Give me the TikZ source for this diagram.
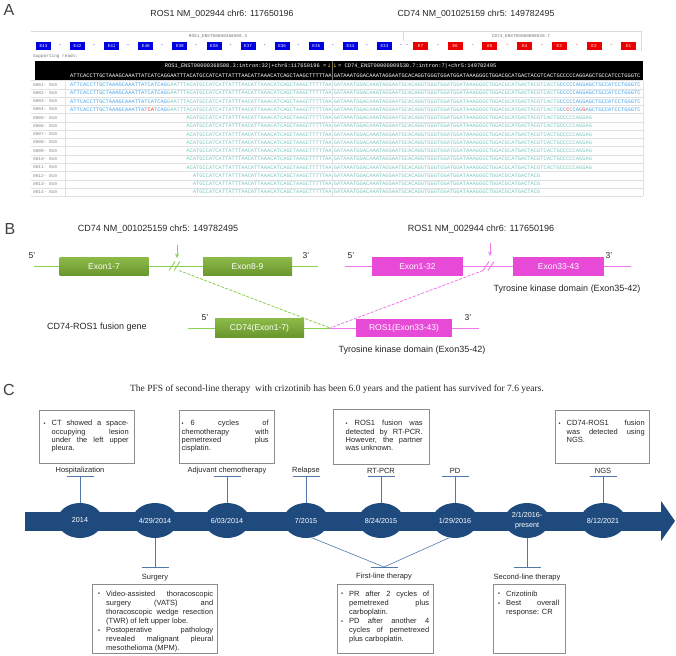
\documentclass[tikz,border=0pt]{standalone}
\usepackage{fontspec}
\usepackage{graphicx}
\setmainfont{Liberation Sans}
\newfontfamily\monof{Liberation Mono}
\newfontfamily\seriff{Liberation Serif}
\newfontfamily\djv{DejaVu Sans}
\usetikzlibrary{arrows.meta,calc,shapes.geometric}
\newcommand\fsz[1]{\fontsize{#1}{#1}\selectfont}
\newcommand\bfnt{\fontsize{7.5}{8.4}\selectfont}
\newcommand\bfntb{\fontsize{7.5}{9.1}\selectfont}
\newcommand\bdot{\raisebox{0.4pt}{\scalebox{0.75}{\textbullet}}}
\newcommand\bul[1]{\par\hangindent=8pt\hangafter=1\noindent\makebox[8pt][l]{\bdot}#1\par}
\newcommand\bun[1]{\par\noindent\makebox[9pt][l]{\bdot}#1\par}
\definecolor{exblue}{RGB}{0,0,225}
\definecolor{exred}{RGB}{235,0,0}
\definecolor{rblue}{RGB}{75,165,235}
\definecolor{rteal}{RGB}{125,200,190}
\definecolor{rred}{RGB}{235,60,40}
\definecolor{gtop}{RGB}{140,186,72}
\definecolor{gbot}{RGB}{105,150,45}
\definecolor{glin}{RGB}{140,208,80}
\definecolor{pboxc}{RGB}{232,74,216}
\definecolor{plin}{RGB}{240,120,232}
\definecolor{tlb}{RGB}{31,74,125}
\definecolor{tmkc}{RGB}{80,120,172}
\tikzset{
  plabel/.style={font=\fsz{16}, text=black!75, inner sep=0pt},
  title/.style={font=\fsz{8.8}, text=black!85, inner sep=0pt},
  tnine/.style={font=\fsz{9}, text=black!85, inner sep=0pt},
  pr/.style={font=\fsz{8.5}, text=black!85, inner sep=0pt},
  hdr/.style={font=\monof\fsz{4.4}, text=black!55, inner sep=0pt},
  exon/.style={rectangle, minimum width=15pt, minimum height=7.5pt, inner sep=0pt, font=\monof\fsz{4.3}, text=white},
  exdash/.style={font=\monof\fsz{5}, inner sep=0pt},
  seqw/.style={font=\monof\fsz{5.38}, text=white, inner sep=0pt},
  seq/.style={font=\monof\fsz{5.38}, inner sep=0pt, anchor=west},
  rlab/.style={font=\monof\fsz{4.4}, text=black!50, inner sep=0pt, anchor=west},
  gridl/.style={draw=black!12, line width=0.4pt},
  gln/.style={draw=glin, line width=0.9pt},
  pln/.style={draw=plin, line width=0.9pt},
  gbx/.style={rectangle, minimum width=89pt, minimum height=18.5pt, inner sep=0pt, top color=gtop, bottom color=gbot, text=white, font=\fsz{8.5}},
  pbx/.style={rectangle, minimum width=91pt, minimum height=18.5pt, inner sep=0pt, fill=pboxc, text=white, font=\fsz{8.5}},
  tc/.style={ellipse, fill=tlb, minimum width=45pt, minimum height=35pt, inner sep=0pt, text=white, font=\fsz{7.2}},
  tmk/.style={draw=tmkc, line width=0.8pt},
  tlab/.style={font=\fsz{7.5}, text=black!85, inner sep=0pt},
  cbox/.style={rectangle, draw=black!45, line width=0.5pt, fill=white, inner sep=0pt, anchor=north west},
  btx/.style={font=\bfnt, text=black!85, align=justify, inner sep=0pt, anchor=north west},
  btxb/.style={font=\bfntb, text=black!85, align=justify, inner sep=0pt, anchor=north west}
}
\begin{document}
\begin{tikzpicture}[x=1pt,y=-1pt]
\useasboundingbox (0,0) rectangle (676,655);
\fill[white] (0,0) rectangle (676,655);
\def\pp{3.2286}
\def\Xr{70}
\def\Xc{333.6}
% ================= Panel A =================
\node[plabel] (lA) at (9,10) {A};
\node[title] (tA1) at (222,14) {ROS1 NM\_002944 chr6: 117650196};
\node[title] (tA2) at (476,14) {CD74 NM\_001025159 chr5: 149782495};
\draw[draw=black!15, line width=0.4pt] (31,31) -- (641,31) -- (641,51);
\draw[draw=black!15, line width=0.4pt] (403,31) -- (403,41);
\node[hdr] (hR) at (218,36) {ROS1\_ENST00000368508.3};
\node[hdr] (hC) at (521,36) {CD74\_ENST00000009530.7};
\foreach \n [count=\i from 0] in {43,42,...,33} {
  \pgfmathsetmacro\xx{43.5+34.1*\i}
  \node[exon, fill=exblue] (E\n) at (\xx,45.8) {E\n};
  \node[exdash, text=exblue] (dE\n) at (\xx+16.5,45.8) {-};
}
\node[exdash, text=exred] (dF0) at (407,45.8) {-};
\foreach \n [count=\i from 0] in {7,6,...,1} {
  \pgfmathsetmacro\xx{420.5+34.7*\i}
  \node[exon, fill=exred] (F\n) at (\xx,45.8) {E\n};
  \ifnum\n>1 \node[exdash, text=exred] (dF\n) at (\xx+17.35,45.8) {-};\fi
}
\node[hdr, anchor=west] (sup) at (33,56) {Supporting reads:};
% black bar
\fill[black] (35,61) rectangle (643,80.5);
\draw[black!55, line width=0.4pt] (332,61) -- (332,80.5);
\node[seqw, anchor=base east] (jR) at (326.5,67.6) {ROS1\_ENST00000368508.3:intron:32|+chr6:117650196 =};
\node[font=\djv\fsz{5}, text=yellow!85!orange, inner sep=0pt] (ya1) at (329.3,65.8) {↓};
\node[font=\djv\fsz{5}, text=yellow!85!orange, inner sep=0pt] (ya2) at (335,65.8) {↓};
\node[seqw, anchor=base west] (jC) at (338,67.6) {= CD74\_ENST00000009530.7:intron:7|+chr5:149782495};
\node[seqw, anchor=west] (sR) at (\Xr,75.6) {ATTCACCTTGCTAAAGCAAATTATCATCAGGAATTTACATGCCATCATTATTTAACATTAAACATCAGCTAAGCTTTTTAA};
\node[seqw, anchor=west] (sC) at (\Xc,75.6) {GATAAATGGACAAATAGGAATGCACAGGTGGGTGGATGGATAAAGGGCTGGACGCATGACTACGTCACTGCCCCCAGGAGCTGCCATCCTGGGTC};
% grid of reads
\foreach \i in {0,...,14} {
  \draw[gridl] (31,{80.7+\i*8.25}) -- (643,{80.7+\i*8.25});
}
\draw[gridl] (65,80.7) -- (65,196.2);
\draw[gridl] (332,80.7) -- (332,196.2);
\draw[gridl] (643,80.7) -- (643,196.2);
\foreach \rr [count=\i] in {0001,0002,0003,0004,0005,0006,0007,0008,0009,0010,0011,0012,0013,0014} {
  \node[rlab] (rl\i) at (33,{84.8+(\i-1)*8.25}) {\rr- 010};
}
\foreach \i in {1,2,3} {
  \pgfmathsetmacro\yy{84.8+(\i-1)*8.25}
  \node[seq, text=rblue] (r\i a) at (\Xr,\yy) {ATTCACCTTGCTAAAGCAAATTATCATCAG};
  \node[seq, text=rteal] (r\i b) at ({\Xr+30*\pp},\yy) {GAATTTACATGCCATCATTATTTAACATTAAACATCAGCTAAGCTTTTTAA};
  \node[seq, text=rteal] (r\i c) at (\Xc,\yy) {GATAAATGGACAAATAGGAATGCACAGGTGGGTGGATGGATAAAGGGCTGGACGCATGACTACGTCACTG};
  \node[seq, text=rblue] (r\i d) at ({\Xc+70*\pp},\yy) {CCCCCAGGAGCTGCCATCCTGGGTC};
}
\pgfmathsetmacro\yy{84.8+3*8.25}
\node[seq, text=rblue] (r4a) at (\Xr,\yy) {ATTCACCTTGCTAAAGCAAATTAT};
\node[seq, text=rred] (r4b) at ({\Xr+24*\pp},\yy) {CA};
\node[seq, text=rblue] (r4c) at ({\Xr+26*\pp},\yy) {TCAG};
\node[seq, text=rteal] (r4d) at ({\Xr+30*\pp},\yy) {GAATTTACATGCCATCATTATTTAACATTAAACATCAGCTAAGCTTTTTAA};
\node[seq, text=rteal] (r4e) at (\Xc,\yy) {GATAAATGGACAAATAGGAATGCACAGGTGGGTGGATGGATAAAGGGCTGGACGCATGACTACGTCACTG};
\node[seq, text=rblue] (r4f) at ({\Xc+70*\pp},\yy) {CC};
\node[seq, text=rred] (r4g) at ({\Xc+72*\pp},\yy) {C};
\node[seq, text=rblue] (r4h) at ({\Xc+73*\pp},\yy) {CCAG};
\node[seq, text=rred] (r4i) at ({\Xc+77*\pp},\yy) {G};
\node[seq, text=rblue] (r4j) at ({\Xc+78*\pp},\yy) {AGCTGCCATCCTGGGTC};
\foreach \i in {5,...,11} {
  \pgfmathsetmacro\yy{84.8+(\i-1)*8.25}
  \node[seq, text=rteal] (r\i a) at ({\Xr+36*\pp},\yy) {ACATGCCATCATTATTTAACATTAAACATCAGCTAAGCTTTTTAA};
  \node[seq, text=rteal] (r\i b) at (\Xc,\yy) {GATAAATGGACAAATAGGAATGCACAGGTGGGTGGATGGATAAAGGGCTGGACGCATGACTACGTCACTGCCCCCAGGAG};
}
\foreach \i in {12,13,14} {
  \pgfmathsetmacro\yy{84.8+(\i-1)*8.25}
  \node[seq, text=rteal] (r\i a) at ({\Xr+38*\pp},\yy) {ATGCCATCATTATTTAACATTAAACATCAGCTAAGCTTTTTAA};
  \node[seq, text=rteal] (r\i b) at (\Xc,\yy) {GATAAATGGACAAATAGGAATGCACAGGTGGGTGGATGGATAAAGGGCTGGACGCATGACTACG};
}
% ================= Panel B =================
\node[plabel] (lB) at (10,228.5) {B};
\node[tnine] (tB1) at (158,229) {CD74 NM\_001025159 chr5: 149782495};
\node[tnine] (tB2) at (481,229) {ROS1 NM\_002944 chr6: 117650196};
\coordinate (gL) at (34,266);
\coordinate (gR) at (318,266);
\draw[gln] (gL) -- (gR);
\node[gbx] (g17) at (104,266.5) {Exon1-7};
\node[gbx] (g89) at (247.5,266.5) {Exon8-9};
\node[pr] (g5) at (32,256) {5'};
\node[pr] (g3) at (306,256) {3'};
\draw[gln] (169,270.5) -- (175,261.5);
\draw[gln] (174,270.5) -- (180,261.5);
\coordinate (gbrk) at (179,270.5);
\coordinate (garT) at (177,245);
\coordinate (garB) at (177,258);
\draw[gln, -{Stealth[length=4.5pt,width=4pt]}] (garT) -- (garB);
\coordinate (pL) at (345,266);
\coordinate (pR) at (631,266);
\draw[pln] (pL) -- (pR);
\node[pbx] (p132) at (417.5,266.5) {Exon1-32};
\node[pbx] (p3343) at (558.5,266.5) {Exon33-43};
\node[pr] (p5) at (351,256) {5'};
\node[pr] (p3) at (609,256) {3'};
\draw[pln] (483,270.5) -- (489,261.5);
\draw[pln] (488,270.5) -- (494,261.5);
\coordinate (pbrk) at (483,270.5);
\coordinate (parT) at (490,243);
\coordinate (parB) at (490,256);
\draw[pln, -{Stealth[length=4.5pt,width=4pt]}] (parT) -- (parB);
\node[tnine] (ty1) at (567,289) {Tyrosine kinase domain (Exon35-42)};
\coordinate (fL) at (188,328);
\coordinate (fJ) at (330,328);
\coordinate (fR) at (479,328);
\draw[gln, dash pattern=on 3pt off 1.5pt, line width=0.8pt] (gbrk) -- (fJ);
\draw[pln, dash pattern=on 3pt off 1.5pt, line width=0.8pt] (pbrk) -- (fJ);
\draw[gln] (fL) -- (fJ);
\draw[pln] (fJ) -- (fR);
\node[gbx] (fcd) at (259.5,328) {CD74(Exon1-7)};
\node[pbx, minimum width=96pt] (fro) at (404,328) {ROS1(Exon33-43)};
\node[pr] (f5) at (205,318) {5'};
\node[pr] (f3) at (468,318) {3'};
\node[tnine, anchor=west] (fus) at (47,327) {CD74-ROS1 fusion gene};
\node[tnine] (ty2) at (412,350) {Tyrosine kinase domain (Exon35-42)};
% ================= Panel C =================
\node[plabel] (lC) at (9,390) {C};
\node[font=\seriff\fsz{9.5}, text=black!85, inner sep=0pt] (pfs) at (337,389.5) {The PFS of second-line therapy\ \ with crizotinib has been 6.0 years and the patient has survived for 7.6 years.};
% top boxes
\node[cbox, minimum width=95pt, minimum height=53pt] (b1) at (39,410) {};
\node[btx, text width=85pt] (b1t) at (43.5,417) {\bul{CT showed a space-\linebreak occupying lesion\linebreak under the left upper\linebreak pleura.}};
\node[cbox, minimum width=95pt, minimum height=53pt] (b2) at (179,410) {};
\node[btx, text width=87pt] (b2t) at (181.5,417) {\bun{6 cycles of\linebreak chemotherapy with\linebreak pemetrexed plus\linebreak cisplatin.}};
\node[cbox, minimum width=96pt, minimum height=55pt] (b3) at (333,409) {};
\node[btx, text width=77pt] (b3t) at (345.5,417) {\bun{ROS1 fusion was\linebreak detected by RT-PCR.\linebreak However, the partner\linebreak was unknown.}};
\node[cbox, minimum width=94pt, minimum height=53pt] (b4) at (555,410) {};
\node[btx, text width=86pt] (b4t) at (558.5,417) {\bul{CD74-ROS1 fusion\linebreak was detected using\linebreak NGS.}};
% timeline band
\fill[tlb] (25,511.5) rectangle (664,531);
\fill[tlb] (661,501) -- (675,521) -- (661,541) -- cycle;
\node[tc] (c1) at (80,520.5) {2014};
\node[tc] (c2) at (155,520.5) {4/29/2014};
\node[tc] (c3) at (227,520.5) {6/03/2014};
\node[tc] (c4) at (306,520.5) {7/2015};
\node[tc] (c5) at (381,520.5) {8/24/2015};
\node[tc] (c6) at (455,520.5) {1/29/2016};
\node[tc, align=center, font=\fontsize{7.2}{10.5}\selectfont] (c7) at (527,520.5) {2/1/2016-\\present};
\node[tc] (c8) at (603,520.5) {8/12/2021};
% top markers
\foreach \c/\lab in {c1/Hospitalization, c3/Adjuvant chemotherapy, c4/Relapse, c5/RT-PCR, c6/PD, c8/NGS} {
  \draw[tmk] (\c.north) -- ++(0,-26) coordinate (\c-t);
  \draw[tmk] ($(\c-t)+(-13.5,0)$) -- ($(\c-t)+(13.5,0)$);
  \node[tlab] (\c-lab) at ($(\c-t)+(0,-6)$) {\lab};
}
% bottom markers
\draw[tmk] (c2.south) -- ++(0,29) coordinate (c2-b);
\draw[tmk] ($(c2-b)+(-13.5,0)$) -- ($(c2-b)+(13.5,0)$);
\node[tlab] (c2-lab) at ($(c2-b)+(0,10)$) {Surgery};
\coordinate (flb) at (384,567);
\draw[tmk, line width=0.6pt] (c4.-72) -- (flb);
\draw[tmk, line width=0.6pt] (c6.-108) -- (flb);
\draw[tmk] ($(flb)+(-13.5,0)$) -- ($(flb)+(13.5,0)$);
\node[tlab] (fl-lab) at ($(flb)+(0,10)$) {First-line therapy};
\draw[tmk] (c7.south) -- ++(0,29) coordinate (c7-b);
\draw[tmk] ($(c7-b)+(-13.5,0)$) -- ($(c7-b)+(13.5,0)$);
\node[tlab] (c7-lab) at ($(c7-b)+(0,10)$) {Second-line therapy};
% bottom boxes
\node[cbox, minimum width=125pt, minimum height=69pt] (bs) at (92,584) {};
\node[btxb, text width=115pt] (bst) at (98,587) {\bul{Video-assisted thoracoscopic\linebreak surgery (VATS) and\linebreak thoracoscopic wedge resection\linebreak (TWR) of left upper lobe.}\bul{Postoperative pathology\linebreak revealed malignant pleural\linebreak mesothelioma (MPM).}};
\node[cbox, minimum width=96pt, minimum height=69pt] (bf) at (337,584) {};
\node[btxb, text width=88pt] (bft) at (341,587) {\bul{PR after 2 cycles of\linebreak pemetrexed plus\linebreak carboplatin.}\bul{PD after another 4\linebreak cycles of pemetrexed\linebreak plus carboplatin.}};
\node[cbox, minimum width=72pt, minimum height=69pt] (bn) at (493,584) {};
\node[btxb, text width=61pt] (bnt) at (498,587) {\bul{Crizotinib}\bul{Best overall\linebreak response: CR}};
\end{tikzpicture}
\end{document}
